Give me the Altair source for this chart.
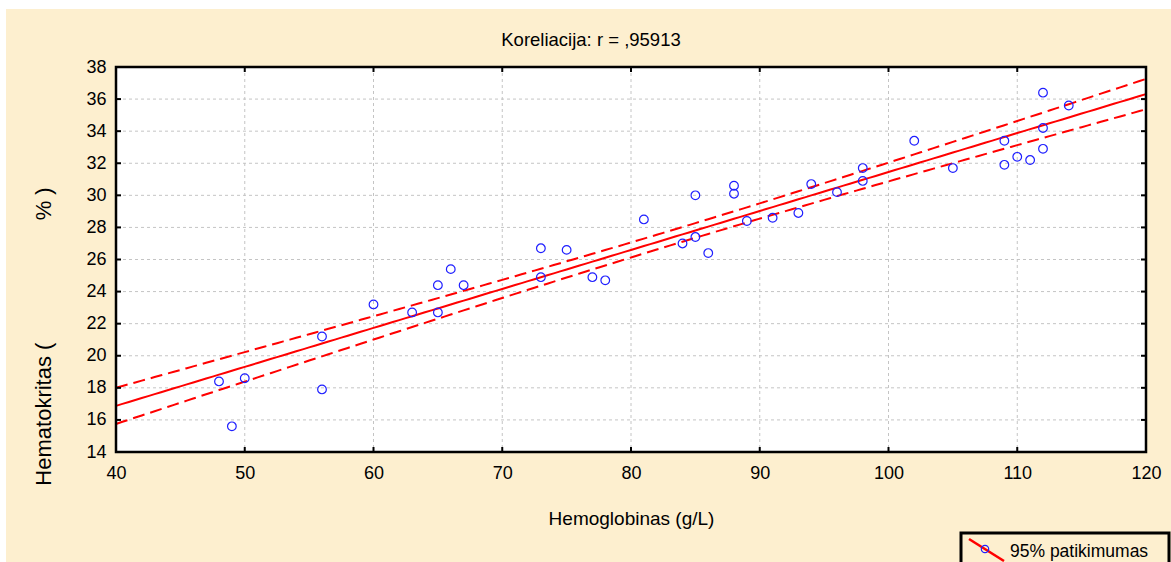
import altair as alt
import numpy as np
import pandas as pd

# ---- data ----
hemoglobin = [48, 49, 50, 56, 56, 60, 63, 65, 65, 66, 67, 73, 73, 75, 77, 78, 81, 84, 85, 85,
              86, 88, 88, 89, 91, 93, 94, 96, 98, 98, 102, 105, 109, 109, 110, 111, 112, 112, 112, 114]
hematocrit = [18.4, 15.6, 18.6, 21.2, 17.9, 23.2, 22.7, 24.4, 22.7, 25.4, 24.4, 26.7, 24.9, 26.6, 24.9, 24.7, 28.5, 27.0, 30.0, 27.4,
              26.4, 30.6, 30.1, 28.4, 28.6, 28.9, 30.7, 30.2, 31.7, 30.9, 33.4, 31.7, 33.4, 31.9, 32.4, 32.2, 36.4, 34.2, 32.9, 35.6]
x_ticks = [40, 50, 60, 70, 80, 90, 100, 110, 120]
y_ticks = [14, 16, 18, 20, 22, 24, 26, 28, 30, 32, 34, 36, 38]
title_text = "Koreliacija: r = ,95913"
x_title = "Hemoglobinas (g/L)"
y_title = "Hematokritas (" + "\u00a0" * 20 + "% )"
legend_text = "95% patikimumas"
T975 = 2.0244  # Student t quantile, df = 38

# ---- least squares fit and 95% confidence band of the mean ----
xa = np.array(hemoglobin, float)
ya = np.array(hematocrit, float)
n = len(xa)
xm = xa.mean()
sxx = ((xa - xm) ** 2).sum()
slope = ((xa - xm) * (ya - ya.mean())).sum() / sxx
icpt = ya.mean() - slope * xm
resid = ya - (icpt + slope * xa)
s = np.sqrt((resid ** 2).sum() / (n - 2))
xg = np.linspace(x_ticks[0], x_ticks[-1], 161)
fit = icpt + slope * xg
half = T975 * s * np.sqrt(1.0 / n + (xg - xm) ** 2 / sxx)
fit_df = pd.DataFrame({"x": xg, "fit": fit, "lo": fit - half, "hi": fit + half})
pts = pd.DataFrame({"x": hemoglobin, "y": hematocrit})

W, H = 1030, 385
PL, PT, PR, PB = 116, 67, 25, 110
CREAM = "#fdefcf"
BLUE = "#1f1fff"
RED = "#ff0000"
FONT = "Liberation Sans, Arial, sans-serif"

xs = alt.Scale(domain=[x_ticks[0], x_ticks[-1]], nice=False, zero=False)
ys = alt.Scale(domain=[y_ticks[0], y_ticks[-1]], nice=False, zero=False)
ax_x = alt.Axis(
    values=x_ticks, format="d", grid=False, ticks=False, domain=False, zindex=1,
    labelFont=FONT, labelFontSize=18, labelColor="black", labelPadding=12, labelFlush=False,
    title=x_title, titleFont=FONT, titleFontSize=19, titleFontWeight="normal", titleColor="black",
    titleY=66, titleBaseline="middle", titleAnchor="middle")
ax_y = alt.Axis(
    values=y_ticks, format="d", grid=False, ticks=False, domain=False, zindex=1,
    labelFont=FONT, labelFontSize=18, labelColor="black", labelPadding=10, labelFlush=False,
    title=y_title, titleFont=FONT, titleFontSize=22, titleFontWeight="normal", titleColor="black",
    titleAngle=270, titleX=-73, titleY=269, titleAlign="center", titleBaseline="middle")


def X(f):
    return alt.X(f, scale=xs, axis=ax_x)


def Y(f):
    return alt.Y(f, scale=ys, axis=ax_y)


one = alt.Data(values=[{"k": 1}])

# thin white strips at the top and left edge of the picture
strip_top = alt.Chart(one).mark_rect(fill="white", stroke=None).encode(
    x=alt.value(-PL), x2=alt.value(W + PR), y=alt.value(-PT), y2=alt.value(-PT + 9))
strip_left = alt.Chart(one).mark_rect(fill="white", stroke=None).encode(
    x=alt.value(-PL), x2=alt.value(-PL + 6), y=alt.value(-PT), y2=alt.value(H + PB))
plotbg = alt.Chart(one).mark_rect(fill="white", stroke=None).encode(
    x=alt.value(0), x2=alt.value(W), y=alt.value(0), y2=alt.value(H))

gx = alt.Chart(pd.DataFrame({"v": x_ticks[1:-1]})).mark_rule(
    color="#c4c4c4", strokeDash=[3, 3], strokeWidth=1).encode(x=X("v:Q"))
gy = alt.Chart(pd.DataFrame({"v": y_ticks[1:-1]})).mark_rule(
    color="#c4c4c4", strokeDash=[3, 3], strokeWidth=1).encode(y=Y("v:Q"))

band_hi = alt.Chart(fit_df).mark_line(color=RED, strokeWidth=2, strokeDash=[12, 6]).encode(
    x=X("x:Q"), y=Y("hi:Q"))
band_lo = alt.Chart(fit_df).mark_line(color=RED, strokeWidth=2, strokeDash=[12, 6]).encode(
    x=X("x:Q"), y=Y("lo:Q"))
reg = alt.Chart(fit_df).mark_line(color=RED, strokeWidth=2).encode(
    x=X("x:Q"), y=Y("fit:Q"))

points = alt.Chart(pts).mark_point(shape="circle", filled=False, color=BLUE, size=75, strokeWidth=1.2, opacity=1).encode(
    x=X("x:Q"), y=Y("y:Q"))

frame = alt.Chart(one).mark_rect(fill=None, stroke="black", strokeWidth=2.5).encode(
    x=alt.value(0), x2=alt.value(W), y=alt.value(0), y2=alt.value(H))

tx = pd.DataFrame({"v": x_ticks[1:-1]})
ty = pd.DataFrame({"v": y_ticks[1:-1]})
tick_b = alt.Chart(tx).mark_rule(color="black", strokeWidth=2).encode(
    x=X("v:Q"), y=alt.value(H - 5), y2=alt.value(H))
tick_t = alt.Chart(tx).mark_rule(color="black", strokeWidth=2).encode(
    x=X("v:Q"), y=alt.value(0), y2=alt.value(5))
tick_l = alt.Chart(ty).mark_rule(color="black", strokeWidth=2).encode(
    y=Y("v:Q"), x=alt.value(0), x2=alt.value(5))
tick_r = alt.Chart(ty).mark_rule(color="black", strokeWidth=2).encode(
    y=Y("v:Q"), x=alt.value(W - 5), x2=alt.value(W))

title = alt.Chart(alt.Data(values=[{"t": title_text}])).mark_text(
    font=FONT, fontSize=18.5, color="black", align="center", baseline="middle").encode(
    x=alt.value(W / 2 - 40), y=alt.value(-27), text="t:N")

leg_box = alt.Chart(one).mark_rect(fill=None, stroke="black", strokeWidth=3).encode(
    x=alt.value(845), x2=alt.value(1053), y=alt.value(466), y2=alt.value(510))
leg_line = alt.Chart(one).mark_rule(color=RED, strokeWidth=2.5).encode(
    x=alt.value(853), y=alt.value(472), x2=alt.value(888), y2=alt.value(494))
leg_pt = alt.Chart(one).mark_point(shape="circle", filled=False, color=BLUE, size=55, strokeWidth=1.2, opacity=1).encode(
    x=alt.value(869), y=alt.value(482))
leg_txt = alt.Chart(alt.Data(values=[{"t": legend_text}])).mark_text(
    font=FONT, fontSize=17.5, color="black", align="left", baseline="middle").encode(
    x=alt.value(894), y=alt.value(485), text="t:N")

chart = alt.layer(
    strip_top, strip_left, plotbg, gx, gy, band_hi, band_lo, reg, points, frame,
    tick_b, tick_t, tick_l, tick_r, title, leg_box, leg_line, leg_pt, leg_txt
).properties(
    width=W, height=H,
    padding={"left": PL, "top": PT, "right": PR, "bottom": PB},
    autosize=alt.AutoSizeParams(type="none"),
    background=CREAM,
).configure_view(stroke=None)

chart.save("out.html", embed_options={"renderer": "svg", "actions": False})
